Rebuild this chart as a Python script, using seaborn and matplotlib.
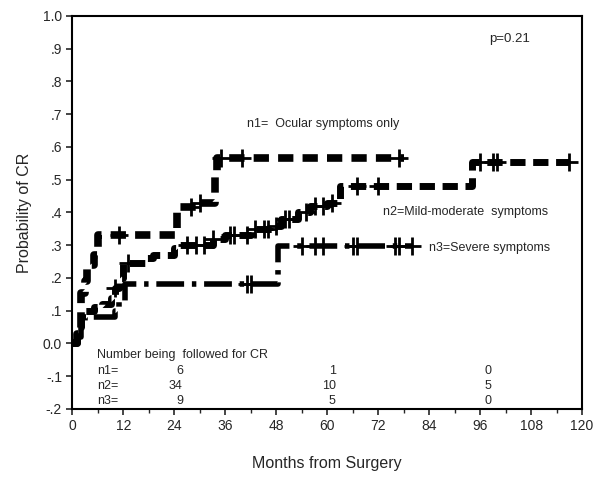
import numpy as np
import pandas as pd
import matplotlib
matplotlib.use("Agg")
import matplotlib.pyplot as plt
import seaborn as sns

# Step curves (months, cumulative probability of CR)
n1_t = [0, 1, 2, 3, 3.5, 5, 6, 24.5, 29, 33.5, 34, 78]
n1_p = [0.0, 0.03, 0.155, 0.19, 0.24, 0.27, 0.33, 0.415, 0.43, 0.52, 0.565, 0.565]
n1_cens = [11, 28, 30, 35, 40, 77]

n2_t = [0, 1, 2, 3, 5, 7, 9, 10, 11, 12, 17, 19, 24, 25, 33, 36, 42, 47, 49,
        53, 56, 60, 63, 94, 117]
n2_p = [0.0, 0.05, 0.08, 0.10, 0.11, 0.12, 0.14, 0.17, 0.20, 0.245, 0.26, 0.27,
        0.29, 0.30, 0.32, 0.33, 0.35, 0.36, 0.38, 0.40, 0.42, 0.43, 0.48, 0.555, 0.555]
n2_cens = [10, 13, 27, 29, 31, 33, 37, 38, 41, 43, 45, 46, 48, 50, 51, 55, 57,
           59, 61, 67, 72, 96, 99, 100, 117]

n3_t = [0, 1, 2, 3, 10, 11, 12.3, 48.5, 80]
n3_p = [0.0, 0.02, 0.05, 0.08, 0.10, 0.13, 0.18, 0.297, 0.297]
n3_cens = [41, 42, 54, 57, 59, 66, 67, 76, 77, 80]

x_ticks = list(range(0, 121, 12))
y_ticks = [-0.2, -0.1, 0.0, 0.1, 0.2, 0.3, 0.4, 0.5, 0.6, 0.7, 0.8, 0.9, 1.0]
y_ticklabels = ["-.2", "-.1", "0.0", ".1", ".2", ".3", ".4", ".5", ".6", ".7", ".8", ".9", "1.0"]

at_risk_times = [26, 62, 98.7]
at_risk = {"n1=": [6, 1, 0], "n2=": [34, 10, 5], "n3=": [9, 5, 0]}

sns.set_style("ticks")
plt.rcParams["font.family"] = ["Liberation Sans", "DejaVu Sans"]

fig = plt.figure(figsize=(5.94, 4.8), dpi=100)
ax = fig.add_axes([0.122, 0.148, 0.858, 0.819])


def step_y(ts, ps, c):
    i = np.searchsorted(ts, c, side="right") - 1
    return ps[max(i, 0)]


curves = [
    (n1_t, n1_p, n1_cens, 5.5, (0, (2.0, 1.2))),
    (n2_t, n2_p, n2_cens, 5.0, (0, (2.2, 1.1))),
    (n3_t, n3_p, n3_cens, 4.0, (0, (5.0, 1.4, 0.8, 1.4))),
]
for ts, ps, cens, lw, ls in curves:
    df = pd.DataFrame({"t": ts, "p": ps})
    sns.lineplot(data=df, x="t", y="p", ax=ax, color="black", lw=lw,
                 linestyle=ls, drawstyle="steps-post", estimator=None,
                 sort=False)
    cd = pd.DataFrame({"t": cens, "p": [step_y(ts, ps, c) for c in cens]})
    sns.scatterplot(data=cd, x="t", y="p", ax=ax, marker="+", s=150,
                    color="black", linewidth=2.0, zorder=5)

ax.set_xlim(0, 120)
ax.set_ylim(-0.2, 1.0)
ax.set_xticks(x_ticks)
ax.set_xticks(list(range(6, 120, 12)), minor=True)
ax.set_yticks(y_ticks)
ax.set_yticklabels(y_ticklabels)
ax.tick_params(axis="both", labelsize=10, length=4, width=1.2, direction="out")
ax.tick_params(axis="x", which="minor", length=3, width=1)
for s in ax.spines.values():
    s.set_linewidth(1.5)
    s.set_color("black")
ax.set_xlabel("Months from Surgery", fontsize=11.5, labelpad=16)
ax.set_ylabel("Probability of CR", fontsize=11.5, labelpad=8)

ax.text(98, 0.93, "p=0.21", fontsize=9.5, va="center")
ax.text(41, 0.67, "n1=  Ocular symptoms only", fontsize=9, va="center")
ax.text(73, 0.40, "n2=Mild-moderate  symptoms", fontsize=9, va="center")
ax.text(84, 0.29, "n3=Severe symptoms", fontsize=9, va="center")

ax.text(5.8, -0.035, "Number being  followed for CR", fontsize=9, va="center")
for k, (lab, vals) in enumerate(at_risk.items()):
    y = -0.083 - 0.047 * k
    ax.text(5.8, y, lab, fontsize=9, va="center")
    for t, v in zip(at_risk_times, vals):
        ax.text(t, y, str(v), fontsize=9, va="center", ha="right")

fig.savefig("out.png", dpi=100)
